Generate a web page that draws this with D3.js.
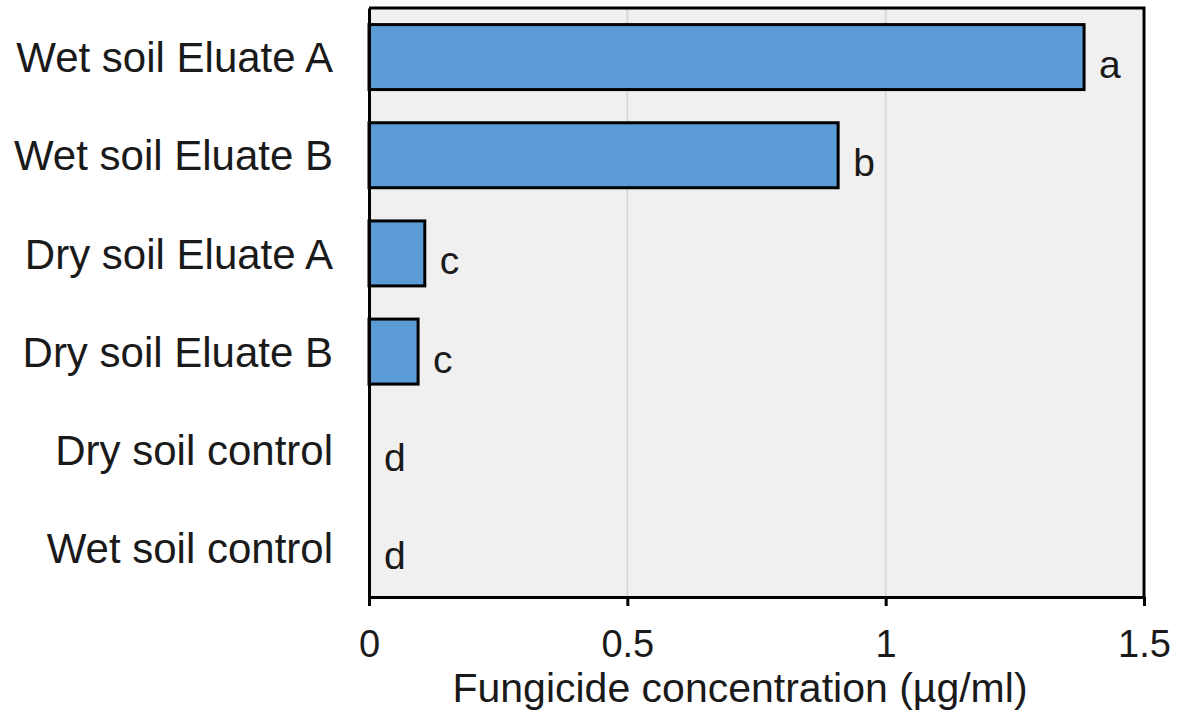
<!DOCTYPE html>
<html>
<head>
<meta charset="utf-8">
<script src="https://cdn.jsdelivr.net/npm/d3@7"></script>
<style>
  html, body { margin: 0; padding: 0; background: #ffffff; }
  svg { display: block; font-family: "Liberation Sans", Arial, sans-serif; }
</style>
</head>
<body>
<svg id="chart" width="1177" height="713"></svg>
<script>
// Treatments, top to bottom
const categories = [
  "Wet soil Eluate A",
  "Wet soil Eluate B",
  "Dry soil Eluate A",
  "Dry soil Eluate B",
  "Dry soil control",
  "Wet soil control"
];
// Fungicide concentration (µg/ml)
const values = [1.384, 0.908, 0.108, 0.095, 0, 0];
// Significance group letters
const groups = ["a", "b", "c", "c", "d", "d"];
const xTicks = [0, 0.5, 1, 1.5];
const xTickLabels = ["0", "0.5", "1", "1.5"];

const svg = d3.select("#chart");
const plot = { left: 369, top: 8, right: 1144, bottom: 597 };

const x = d3.scaleLinear().domain([0, 1.5]).range([plot.left, plot.right]);
const y = d3.scaleBand().domain(categories).range([plot.top, plot.bottom]).paddingInner(0.338).paddingOuter(0.169);

// Plot background
svg.append("rect")
  .attr("x", plot.left).attr("y", plot.top)
  .attr("width", plot.right - plot.left).attr("height", plot.bottom - plot.top)
  .attr("fill", "#f0f0f0");

// Vertical gridlines
svg.append("g")
  .selectAll("line")
  .data(xTicks.filter(d => d > 0 && d < 1.5))
  .join("line")
  .attr("x1", d => x(d)).attr("x2", d => x(d))
  .attr("y1", plot.top).attr("y2", plot.bottom)
  .attr("stroke", "#d9d9d9").attr("stroke-width", 2);

// Bars
svg.append("g")
  .selectAll("rect")
  .data(categories.map((c, i) => ({ c, v: values[i] })).filter(d => d.v > 0))
  .join("rect")
  .attr("x", x(0))
  .attr("y", d => y(d.c))
  .attr("width", d => x(d.v) - x(0))
  .attr("height", y.bandwidth())
  .attr("fill", "#5b9bd5")
  .attr("stroke", "#000")
  .attr("stroke-width", 3);

// Group letters
svg.append("g")
  .selectAll("text")
  .data(categories.map((c, i) => ({ c, v: values[i], g: groups[i] })))
  .join("text")
  .attr("x", d => x(d.v) + 15)
  .attr("y", d => y(d.c) + y.bandwidth() / 2 + 21)
  .attr("font-size", 39)
  .attr("fill", "#1a1a1a")
  .text(d => d.g);

// Frame: top and right edges
svg.append("path")
  .attr("d", `M${plot.left},${plot.top}H${plot.right}V${plot.bottom}`)
  .attr("fill", "none").attr("stroke", "#000").attr("stroke-width", 3);

// X axis
const xAxis = d3.axisBottom(x)
  .tickValues(xTicks)
  .tickFormat((d, i) => xTickLabels[i])
  .tickSizeInner(9).tickSizeOuter(0).tickPadding(24);
const gx = svg.append("g").attr("transform", `translate(0,${plot.bottom})`).call(xAxis);
gx.select(".domain").attr("stroke", "#000").attr("stroke-width", 3);
gx.selectAll(".tick line").attr("stroke", "#000").attr("stroke-width", 3);
gx.selectAll(".tick text")
  .attr("font-size", 38).attr("fill", "#1a1a1a")
  .attr("font-family", "Liberation Sans, Arial, sans-serif")
  .attr("dy", "0.71em");

// Y axis (category labels)
const yAxis = d3.axisLeft(y).tickSize(0).tickPadding(36);
const gy = svg.append("g").attr("transform", `translate(${plot.left},0)`).call(yAxis);
gy.select(".domain").attr("stroke", "#000").attr("stroke-width", 3);
gy.selectAll(".tick text")
  .attr("font-size", 42).attr("fill", "#1a1a1a")
  .attr("font-family", "Liberation Sans, Arial, sans-serif")
  .attr("dy", "0.36em");

// Axis title
svg.append("text")
  .attr("x", 740).attr("y", 702)
  .attr("text-anchor", "middle")
  .attr("font-size", 41).attr("fill", "#1a1a1a")
  .text("Fungicide concentration (µg/ml)");
</script>
</body>
</html>
